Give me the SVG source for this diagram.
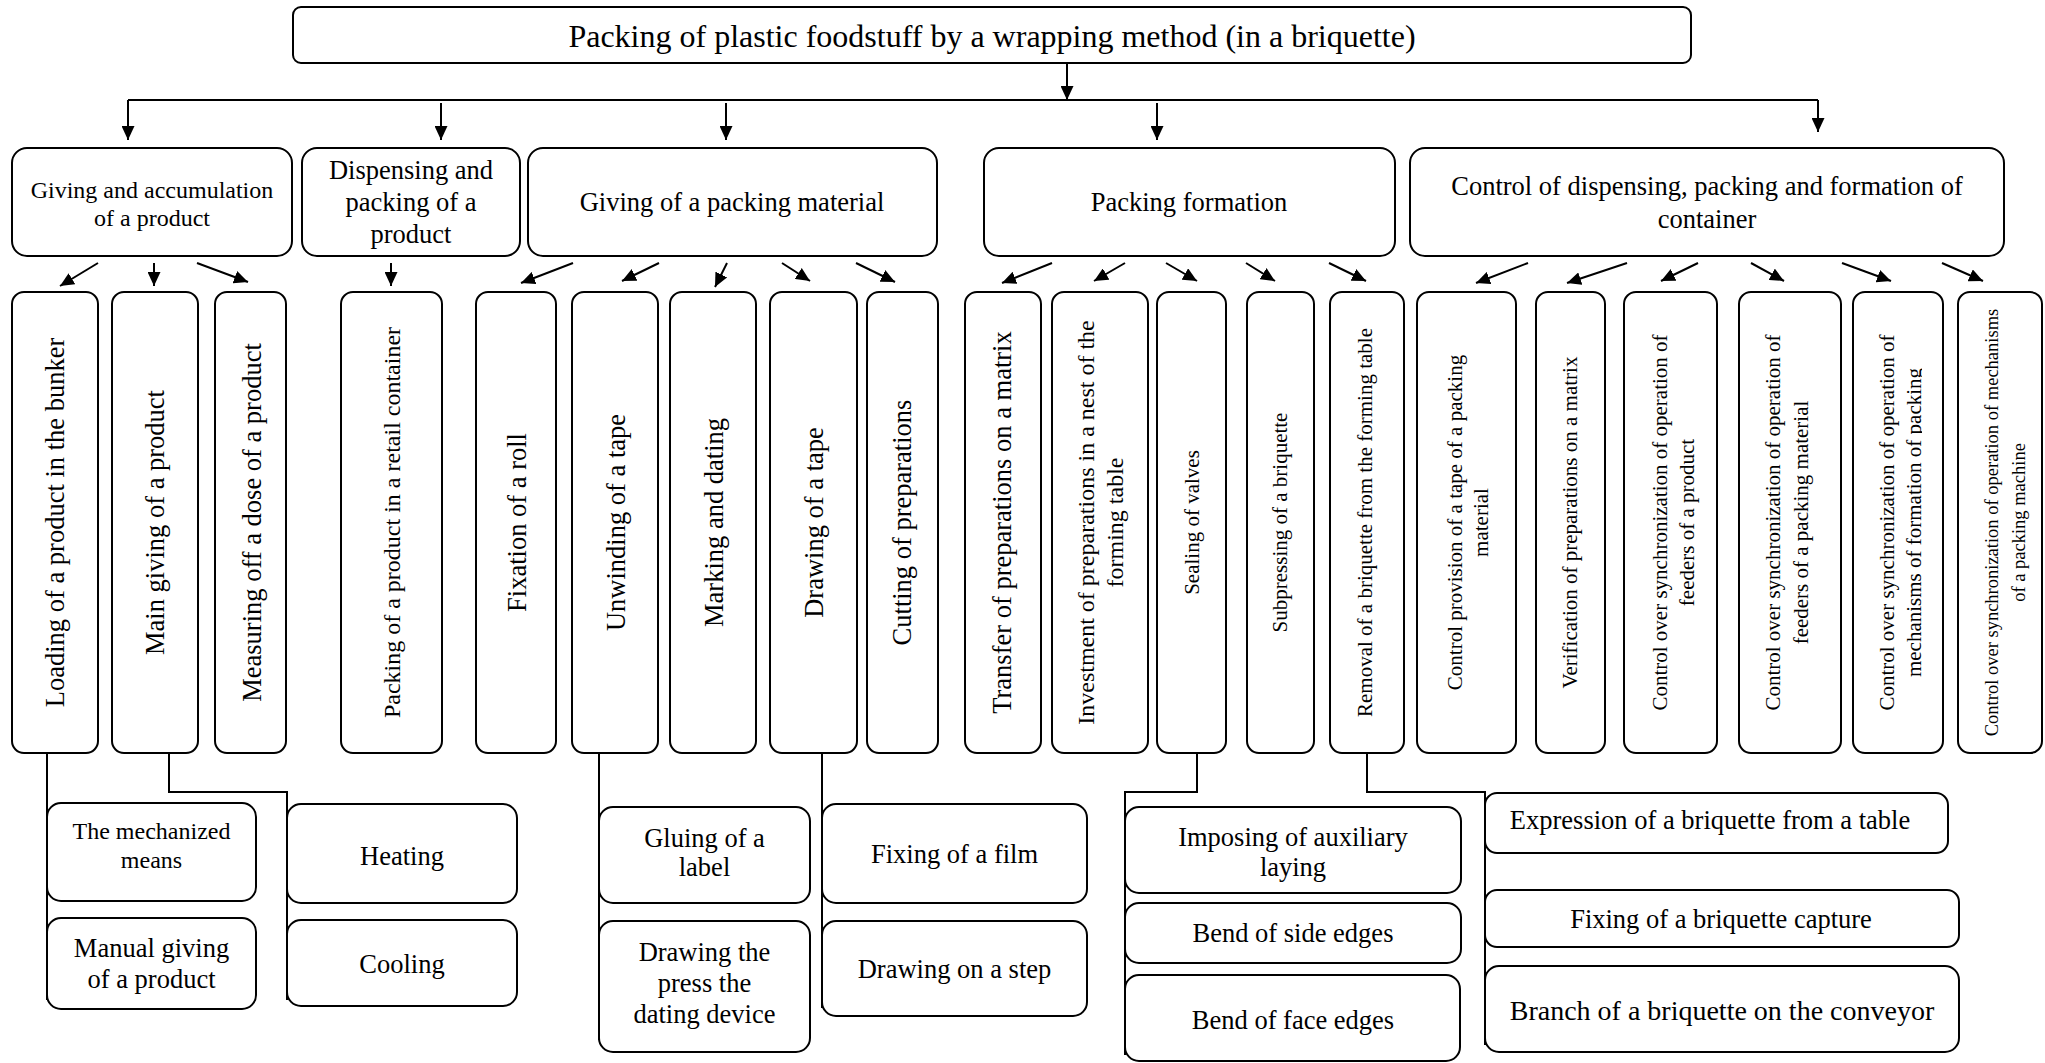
<svg xmlns="http://www.w3.org/2000/svg" width="2045" height="1063" viewBox="0 0 2045 1063">
<style>
.bg{fill:#fff}
.box{fill:#fff;stroke:#000;stroke-width:2}
.ln{fill:none;stroke:#000;stroke-width:2}
.ar{fill:none;stroke:#000;stroke-width:2;marker-end:url(#ah)}
.t{font-family:"Liberation Serif","Times New Roman",serif;fill:#000;text-anchor:middle;font-size:26.5px}
.s24{font-size:24px}
.s21{font-size:21px}
</style>
<defs>
<marker id="ah" markerWidth="14" markerHeight="13" refX="14" refY="6.5" orient="auto" markerUnits="userSpaceOnUse"><path d="M0,0 L14,6.5 L0,13 z" fill="#000"/></marker>
<clipPath id="clipM"><rect x="1840" y="280" width="82" height="480"/></clipPath>
</defs>
<rect class="bg" x="0" y="0" width="2045" height="1063"/>

<g id="connectors">
<path class="ar" d="M1067,63 V100"/>
<path class="ln" d="M128,100 H1818"/>
<path class="ar" d="M128,100 V140"/>
<path class="ar" d="M441,103 V140"/>
<path class="ar" d="M726,103 V140"/>
<path class="ar" d="M1157,103 V140"/>
<path class="ar" d="M1818,100 V132"/>

<path class="ar" d="M98,263 L60,286"/>
<path class="ar" d="M154,263 L154,286"/>
<path class="ar" d="M197,263 L248,282"/>
<path class="ar" d="M391,263 L391,286"/>
<path class="ar" d="M573,263 L521,283"/>
<path class="ar" d="M659,263 L622,281"/>
<path class="ar" d="M727,263 L715,287"/>
<path class="ar" d="M782,263 L810,281"/>
<path class="ar" d="M856,263 L895,282"/>
<path class="ar" d="M1052,263 L1002,283"/>
<path class="ar" d="M1125,263 L1094,281"/>
<path class="ar" d="M1166,263 L1197,281"/>
<path class="ar" d="M1246,263 L1275,281"/>
<path class="ar" d="M1329,263 L1366,281"/>
<path class="ar" d="M1528,263 L1476,283"/>
<path class="ar" d="M1627,263 L1567,283"/>
<path class="ar" d="M1698,263 L1661,281"/>
<path class="ar" d="M1751,263 L1784,281"/>
<path class="ar" d="M1842,263 L1891,281"/>
<path class="ar" d="M1942,263 L1983,281"/>

<path class="ln" d="M47,753 V1000"/>
<path class="ln" d="M169,753 V792 H287 V1000"/>
<path class="ln" d="M599,753 V1040"/>
<path class="ln" d="M822,753 V1008"/>
<path class="ln" d="M1197,753 V792 H1125 V1055"/>
<path class="ln" d="M1367,753 V792 H1485 V1045"/>
</g>

<g id="n-root"><rect class="box" x="293" y="7" width="1398" height="56" rx="8"/><text class="t" x="992" y="47" style="font-size:32px">Packing of plastic foodstuff by a wrapping method (in a briquette)</text></g>

<g id="n-giving"><rect class="box" x="12" y="148" width="280" height="108" rx="15"/><text class="t s24"><tspan x="152" y="198">Giving and accumulation</tspan><tspan x="152" y="226">of a product</tspan></text></g>
<g id="n-dispensing"><rect class="box" x="302" y="148" width="218" height="108" rx="15"/><text class="t"><tspan x="411" y="179">Dispensing and</tspan><tspan x="411" y="211">packing of a</tspan><tspan x="411" y="243">product</tspan></text></g>
<g id="n-material"><rect class="box" x="528" y="148" width="409" height="108" rx="15"/><text class="t" x="732" y="211">Giving of a packing material</text></g>
<g id="n-formation"><rect class="box" x="984" y="148" width="411" height="108" rx="15"/><text class="t" x="1189" y="211">Packing formation</text></g>
<g id="n-control"><rect class="box" x="1410" y="148" width="594" height="108" rx="15"/><text class="t"><tspan x="1707" y="195">Control of dispensing, packing and formation of</tspan><tspan x="1707" y="228">container</tspan></text></g>

<g id="v-loading"><rect class="box" x="12" y="292" width="86" height="461" rx="12"/><text class="t" transform="translate(64,522.5) rotate(-90)">Loading of a product in the bunker</text></g>
<g id="v-main"><rect class="box" x="112" y="292" width="86" height="461" rx="12"/><text class="t" transform="translate(164,522.5) rotate(-90)">Main giving of a product</text></g>
<g id="v-measuring"><rect class="box" x="215" y="292" width="71" height="461" rx="12"/><text class="t" transform="translate(260.5,522.5) rotate(-90)">Measuring off a dose of a product</text></g>
<g id="v-retail"><rect class="box" x="341" y="292" width="101" height="461" rx="12"/><text class="t s24" transform="translate(399.5,522.5) rotate(-90)">Packing of a product in a retail container</text></g>
<g id="v-fixation"><rect class="box" x="476" y="292" width="80" height="461" rx="12"/><text class="t" transform="translate(525.5,522.5) rotate(-90)">Fixation of a roll</text></g>
<g id="v-unwinding"><rect class="box" x="572" y="292" width="86" height="461" rx="12"/><text class="t" transform="translate(624.5,522.5) rotate(-90)">Unwinding of a tape</text></g>
<g id="v-marking"><rect class="box" x="670" y="292" width="86" height="461" rx="12"/><text class="t" transform="translate(722.5,522.5) rotate(-90)">Marking and dating</text></g>
<g id="v-drawing"><rect class="box" x="770" y="292" width="87" height="461" rx="12"/><text class="t" transform="translate(822.5,522.5) rotate(-90)">Drawing of a tape</text></g>
<g id="v-cutting"><rect class="box" x="867" y="292" width="71" height="461" rx="12"/><text class="t" transform="translate(910.5,522.5) rotate(-90)">Cutting of preparations</text></g>
<g id="v-transfer"><rect class="box" x="965" y="292" width="76" height="461" rx="12"/><text class="t" transform="translate(1010.5,522.5) rotate(-90)">Transfer of preparations on a matrix</text></g>
<g id="v-investment"><rect class="box" x="1052" y="292" width="96" height="461" rx="12"/><text class="t s24" transform="translate(1094,522.5) rotate(-90)"><tspan x="0" y="0">Investment of preparations in a nest of the</tspan><tspan x="0" y="29">forming table</tspan></text></g>
<g id="v-sealing"><rect class="box" x="1157" y="292" width="69" height="461" rx="12"/><text class="t s21" transform="translate(1199,522.5) rotate(-90)">Sealing of valves</text></g>
<g id="v-subpressing"><rect class="box" x="1247" y="292" width="67" height="461" rx="12"/><text class="t s21" transform="translate(1287,522.5) rotate(-90)">Subpressing of a briquette</text></g>
<g id="v-removal"><rect class="box" x="1330" y="292" width="74" height="461" rx="12"/><text class="t s21" transform="translate(1372,522.5) rotate(-90)">Removal of a briquette from the forming table</text></g>
<g id="v-provision"><rect class="box" x="1417" y="292" width="99" height="461" rx="12"/><text class="t s21" transform="translate(1461.5,522.5) rotate(-90)"><tspan x="0" y="0">Control provision of a tape of a packing</tspan><tspan x="0" y="26.5">material</tspan></text></g>
<g id="v-verification"><rect class="box" x="1536" y="292" width="69" height="461" rx="12"/><text class="t s21" transform="translate(1577,522.5) rotate(-90)">Verification of preparations on a matrix</text></g>
<g id="v-feeders-product"><rect class="box" x="1624" y="292" width="93" height="461" rx="12"/><text class="t s21" transform="translate(1667,522.5) rotate(-90)"><tspan x="0" y="0">Control over synchronization of operation of</tspan><tspan x="0" y="26.5">feeders of a product</tspan></text></g>
<g id="v-feeders-material"><rect class="box" x="1739" y="292" width="102" height="461" rx="12"/><text class="t s21" transform="translate(1780,522.5) rotate(-90)"><tspan x="0" y="0">Control over synchronization of operation of</tspan><tspan x="0" y="27.5">feeders of a packing material</tspan></text></g>
<g id="v-mechanisms"><rect class="box" x="1853" y="292" width="90" height="461" rx="12"/><g clip-path="url(#clipM)"><text class="t s21" transform="translate(1894,522.5) rotate(-90)"><tspan x="0" y="0">Control over synchronization of operation of</tspan><tspan x="0" y="27">mechanisms of formation of packing</tspan></text></g></g>
<g id="v-machine"><rect class="box" x="1958" y="292" width="84" height="461" rx="12"/><text class="t" style="font-size:18.5px" transform="translate(1998,522.5) rotate(-90)"><tspan x="0" y="0">Control over synchronization of operation of mechanisms</tspan><tspan x="0" y="27">of a packing machine</tspan></text></g>

<g id="b-mechanized"><rect class="box" x="47" y="803" width="209" height="98" rx="14"/><text class="t s24"><tspan x="151.5" y="839">The mechanized</tspan><tspan x="151.5" y="868">means</tspan></text></g>
<g id="b-manual"><rect class="box" x="47" y="918" width="209" height="91" rx="14"/><text class="t"><tspan x="151.5" y="957">Manual giving</tspan><tspan x="151.5" y="988">of a product</tspan></text></g>
<g id="b-heating"><rect class="box" x="287" y="804" width="230" height="99" rx="14"/><text class="t" x="402" y="864.5">Heating</text></g>
<g id="b-cooling"><rect class="box" x="287" y="920" width="230" height="86" rx="14"/><text class="t" x="402" y="973">Cooling</text></g>
<g id="b-gluing"><rect class="box" x="599" y="807" width="211" height="96" rx="14"/><text class="t"><tspan x="704.5" y="847">Gluing of a</tspan><tspan x="704.5" y="876">label</tspan></text></g>
<g id="b-press"><rect class="box" x="599" y="921" width="211" height="131" rx="14"/><text class="t"><tspan x="704.5" y="961">Drawing the</tspan><tspan x="704.5" y="992">press the</tspan><tspan x="704.5" y="1023">dating device</tspan></text></g>
<g id="b-film"><rect class="box" x="822" y="804" width="265" height="99" rx="14"/><text class="t" x="954.5" y="863">Fixing of a film</text></g>
<g id="b-step"><rect class="box" x="822" y="921" width="265" height="95" rx="14"/><text class="t" x="954.5" y="978">Drawing on a step</text></g>
<g id="b-imposing"><rect class="box" x="1125" y="807" width="336" height="86" rx="14"/><text class="t"><tspan x="1293" y="846">Imposing of auxiliary</tspan><tspan x="1293" y="876">laying</tspan></text></g>
<g id="b-side"><rect class="box" x="1125" y="903" width="336" height="60" rx="14"/><text class="t" x="1293" y="942">Bend of side edges</text></g>
<g id="b-face"><rect class="box" x="1125" y="975" width="335" height="86" rx="14"/><text class="t" x="1293" y="1029">Bend of face edges</text></g>
<g id="b-expression"><rect class="box" x="1485" y="793" width="463" height="60" rx="12"/><text class="t" x="1710" y="829">Expression of a briquette from a table</text></g>
<g id="b-capture"><rect class="box" x="1485" y="890" width="474" height="57" rx="12"/><text class="t" x="1721" y="928">Fixing of a briquette capture</text></g>
<g id="b-branch"><rect class="box" x="1485" y="966" width="474" height="86" rx="14"/><text class="t" x="1722" y="1020" style="font-size:28px">Branch of a briquette on the conveyor</text></g>
</svg>
